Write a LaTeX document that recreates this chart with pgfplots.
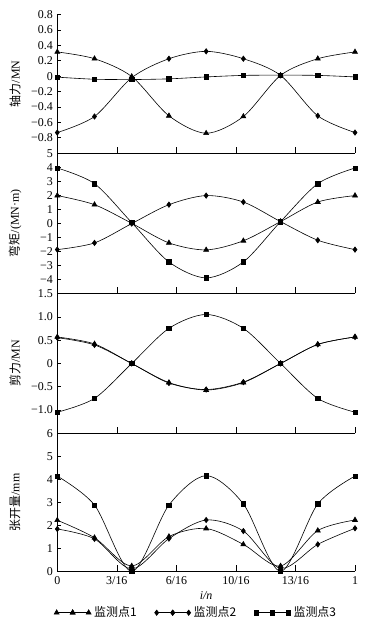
\documentclass[border=0pt]{standalone}
\usepackage{fontspec}
\setmainfont{Liberation Serif}
\newfontfamily\cjk{Noto Sans CJK SC}
\usepackage{pgfplots}
\usepackage{pgfplotstable}
\pgfplotsset{compat=1.18}

\pgfplotstableread{
x s1 s2 s3
0 0.315 -0.734 -0.013
0.125 0.227 -0.525 -0.040
0.25 -0.005 -0.020 -0.044
0.375 -0.516 0.227 -0.035
0.5 -0.743 0.323 -0.010
0.625 -0.525 0.227 0.010
0.75 0.010 0.010 0.013
0.875 0.227 -0.516 0.010
1 0.315 -0.734 -0.010
}\axial

\pgfplotstableread{
x s1 s2 s3
0 1.98 -1.88 3.95
0.125 1.33 -1.40 2.83
0.25 0.00 -0.02 0.05
0.375 -1.40 1.33 -2.76
0.5 -1.90 1.98 -3.90
0.625 -1.25 1.52 -2.76
0.75 0.12 0.12 0.12
0.875 1.52 -1.21 2.83
1 1.98 -1.88 3.95
}\moment

\pgfplotstableread{
x s1 s2 s3
0 0.57 0.555 -1.047
0.125 0.42 0.40 -0.75
0.25 0.00 0.00 0.00
0.375 -0.41 -0.42 0.755
0.5 -0.57 -0.56 1.054
0.625 -0.41 -0.40 0.755
0.75 0.00 0.00 0.00
0.875 0.41 0.41 -0.75
1 0.57 0.57 -1.047
}\shear

\pgfplotstableread{
x s1 s2 s3
0 2.22 1.84 4.14
0.125 1.46 1.41 2.88
0.25 0.23 0.10 0.00
0.375 1.51 1.42 2.88
0.5 1.86 2.23 4.16
0.625 1.17 1.75 2.93
0.75 0.23 0.13 0.00
0.875 1.77 1.17 2.93
1 2.23 1.87 4.14
}\opening

\pgfplotsset{
  panel/.style={
    scale only axis, width=297.7bp,
    xmin=0, xmax=1, clip=false,
    axis x line=bottom, axis y line=left,
    axis line style={-, line width=0.6bp},
    tick align=inside,
    xtick={0,0.2,0.4,0.6,0.8,1},
    xticklabels={},
    major tick length=4bp,
    xtick style={/pgfplots/major tick length=6bp, line width=0.6bp, black},
    ytick style={line width=0.6bp, black},
    tick label style={font=\fontsize{12}{13}\selectfont},
    yticklabel style={xshift=-1bp},
    xticklabel style={yshift=-1.5bp},
    ylabel style={at={(axis description cs:-0.142,0.5)}, anchor=center, font=\fontsize{12}{13}\selectfont},
    every axis plot/.append style={black, line width=0.6bp, smooth},
  },
  s1/.style={mark=triangle*, mark size=2.9pt, mark options={solid, fill=black}},
  s2/.style={mark=diamond*, mark size=2.7pt, mark options={solid, fill=black}},
  s3/.style={mark=square*, mark size=2.2pt, mark options={solid, fill=black}},
}

\begin{document}
\begin{tikzpicture}
\useasboundingbox (0bp,0bp) rectangle (373bp,625bp);

% Panel 1: axial force
\begin{axis}[panel, at={(57.3bp,472bp)}, anchor=south west, height=138.3bp,
  ymin=-1, ymax=0.8,
  ytick={-0.8,-0.6,-0.4,-0.2,0,0.2,0.4,0.6,0.8},
  yticklabels={−0.8,−0.6,−0.4,−0.2,0,0.2,0.4,0.6,0.8},
  ylabel={{\cjk 轴力}/MN}]
\addplot[s1] table[x=x, y=s1] {\axial};
\addplot[s2] table[x=x, y=s2] {\axial};
\addplot[s3] table[x=x, y=s3] {\axial};
\end{axis}

% Panel 2: bending moment
\begin{axis}[panel, at={(57.3bp,331.7bp)}, anchor=south west, height=140bp,
  ymin=-5, ymax=5,
  ytick={-4,-3,-2,-1,0,1,2,3,4,5},
  yticklabels={−4,−3,−2,−1,0,1,2,3,4,5},
  ylabel={{\cjk 弯矩}/(MN·m)}]
\addplot[s1] table[x=x, y=s1] {\moment};
\addplot[s2] table[x=x, y=s2] {\moment};
\addplot[s3] table[x=x, y=s3] {\moment};
\end{axis}

% Panel 3: shear force
\begin{axis}[panel, at={(57.3bp,191.7bp)}, anchor=south west, height=139.6bp,
  ymin=-1.5, ymax=1.5,
  ytick={-1,-0.5,0,0.5,1,1.5},
  yticklabels={−1.0,−0.5,0,0.5,1.0,1.5},
  ylabel={{\cjk 剪力}/MN}]
\addplot[s1] table[x=x, y=s1] {\shear};
\addplot[s2] table[x=x, y=s2] {\shear};
\addplot[s3] table[x=x, y=s3] {\shear};
\end{axis}

% Panel 4: opening
\begin{axis}[panel, at={(57.3bp,53.7bp)}, anchor=south west, height=138bp,
  ymin=0, ymax=6,
  ytick={0,1,2,3,4,5,6},
  yticklabels={0,1,2,3,4,5,6},
  xticklabels={0,3/16,6/16,10/16,13/16,1},
  ylabel={{\cjk 张开量}/mm},
  xlabel={\itshape i/n},
  xlabel style={at={(axis description cs:0.5,-0.179)}, anchor=center, font=\fontsize{12}{13}\selectfont},
  legend columns=3,
  legend style={draw=none, fill=none, at={(axis description cs:0.468,-0.30)}, anchor=center,
    font=\fontsize{12}{13}\selectfont, inner sep=0pt,
    nodes={inner xsep=3bp},
    /tikz/every even column/.append style={column sep=15bp}},
  legend image code/.code={\draw[#1, sharp plot] plot coordinates {(0bp,0bp) (16bp,0bp) (32bp,0bp)};
    \draw[#1, only marks, sharp plot] plot coordinates {(16bp,0bp)};},
  ]
\addplot[s1] table[x=x, y=s1] {\opening};
\addlegendentry{\cjk 监测点1}
\addplot[s2] table[x=x, y=s2] {\opening};
\addlegendentry{\cjk 监测点2}
\addplot[s3] table[x=x, y=s3] {\opening};
\addlegendentry{\cjk 监测点3}
\end{axis}
\end{tikzpicture}
\end{document}
